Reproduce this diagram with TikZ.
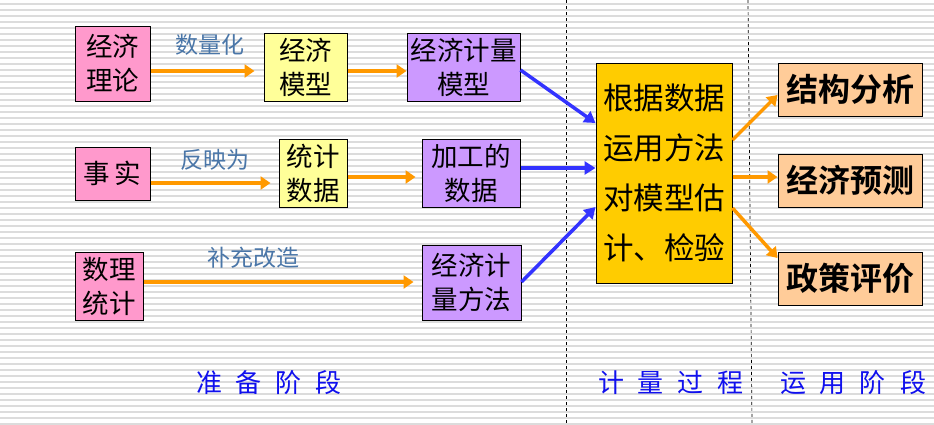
\documentclass[tikz,border=0pt]{standalone}
\usepackage{fontspec}
\newfontfamily\cjk{Noto Sans CJK SC}[BoldFont={Noto Sans CJK SC Bold}]
\usetikzlibrary{arrows.meta}
\definecolor{pinkbox}{HTML}{FF99CC}
\definecolor{ylwbox}{HTML}{FFFF99}
\definecolor{purbox}{HTML}{CC99FF}
\definecolor{goldbox}{HTML}{FFCC00}
\definecolor{peachbox}{HTML}{FFCC99}
\definecolor{orarrow}{HTML}{FF9900}
\definecolor{bluarrow}{HTML}{3333FF}
\definecolor{lbltext}{HTML}{4A76A8}
\definecolor{stagetext}{HTML}{1010EE}
\definecolor{stripe}{HTML}{DCDCDC}
\begin{document}
\begin{tikzpicture}[x=1pt,y=-1pt,
  box/.style={draw=black,line width=1pt,inner sep=0pt,align=center,
    font=\cjk\fontsize{26.5}{34}\selectfont},
  oarr/.style={draw=orarrow,line width=3.5pt,-{Triangle[length=10pt,width=13pt]}},
  barr/.style={draw=bluarrow,line width=3.5pt,-{Triangle[length=11pt,width=13pt]}},
  lbl/.style={text=lbltext,font=\cjk\fontsize{23}{26}\selectfont,inner sep=0pt},
  stage/.style={text=stagetext,font=\cjk\fontsize{26}{28}\selectfont,inner sep=0pt},
  bigbox/.style={draw=black,line width=1pt,inner sep=0pt,align=center,fill=peachbox,
    minimum width=144pt,minimum height=53pt,font=\cjk\bfseries\fontsize{32}{34}\selectfont}]
\useasboundingbox (0,0) rectangle (934,424);
\fill[white] (0,0) rectangle (934,424);
\foreach \yy in {4,10,...,424} {\draw[stripe,line width=1.6pt] (0,\yy) -- (934,\yy);}
% dashed separators
\draw[black,line width=0.7pt,dash pattern=on 3pt off 3pt] (566,0) -- (566,424);
\draw[black,line width=0.7pt,dash pattern=on 3pt off 3pt] (748,0) -- (752,424);
% boxes
\node[box,fill=pinkbox,minimum width=75pt,minimum height=75pt] (a1) at (112.5,63.5) {经济\\理论};
\node[box,fill=ylwbox,minimum width=83pt,minimum height=68pt] (a2) at (305.5,67) {经济\\模型};
\node[box,fill=purbox,minimum width=113pt,minimum height=68pt] (a3) at (463.5,67) {经济计量\\模型};
\node[box,fill=pinkbox,minimum width=75pt,minimum height=53pt] (b1) at (112.5,173.5) {事\hspace{5pt}实};
\node[box,fill=ylwbox,minimum width=68pt,minimum height=68pt] (b2) at (313,173) {统计\\数据};
\node[box,fill=purbox,minimum width=98pt,minimum height=68pt] (b3) at (471,173) {加工的\\数据};
\node[box,fill=pinkbox,minimum width=68pt,minimum height=68pt] (c1) at (109,286) {数理\\统计};
\node[box,fill=purbox,minimum width=99pt,minimum height=75pt] (c3) at (471.5,282.5) {经济计\\量方法};
\node[box,fill=goldbox,minimum width=136pt,minimum height=220pt,
  font=\cjk\fontsize{30.5}{50}\selectfont] (y) at (664,173) {根据数据\\运用方法\\对模型估\\计、检验};
\node[bigbox] (r1) at (850,89.5) {结构分析};
\node[bigbox] (r2) at (850,180.5) {经济预测};
\node[bigbox] (r3) at (850,278.5) {政策评价};
% labels
\node[lbl] (l1) at (210,45) {数量化};
\node[lbl] (l2) at (215,160) {反映为};
\node[lbl] (l3) at (253,258) {补充改造};
% stage labels
\node[stage] (s1) at (269,383) {准\hspace{14pt}备\hspace{14pt}阶\hspace{14pt}段};
\node[stage] (s2) at (671,383) {计\hspace{14pt}量\hspace{14pt}过\hspace{14pt}程};
\node[stage] (s3) at (853,383) {运\hspace{14pt}用\hspace{14pt}阶\hspace{14pt}段};
% orange arrows
\draw[oarr,shorten >=9pt] (a1.east |- 0,71) -- (a2.west |- 0,71);
\draw[oarr] (a2.east |- 0,71) -- (a3.west |- 0,71);
\draw[oarr,shorten >=8pt] (b1.east |- 0,183) -- (b2.west |- 0,183);
\draw[oarr,shorten >=6pt] (b2.east |- 0,177) -- (b3.west |- 0,177);
\draw[oarr,shorten >=8pt] (c1.east |- 0,282) -- (c3.west |- 0,282);
% blue arrows
\draw[barr] (a3.east |- 0,70) -- (y.west |- 0,123);
\draw[barr] (b3.east |- 0,168) -- (y.west |- 0,168);
\draw[barr] (c3.east |- 0,282) -- (y.west |- 0,207);
% output arrows
\draw[oarr] (y.east |- 0,140) -- (r1.west |- 0,95);
\draw[oarr] (y.east |- 0,177) -- (r2.west |- 0,177);
\draw[oarr] (y.east |- 0,208) -- (r3.west |- 0,258);
\end{tikzpicture}
\end{document}
